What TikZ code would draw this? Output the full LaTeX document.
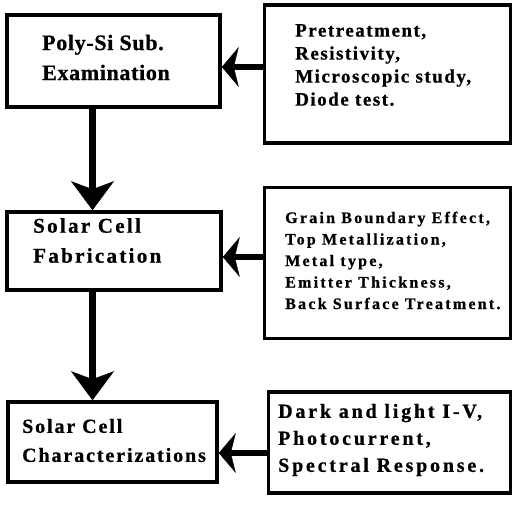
\documentclass[tikz,border=0pt]{standalone}
\usepackage{fontspec}
\setmainfont{Liberation Serif}[FakeBold=0.8]
\usetikzlibrary{arrows.meta}
\newcommand{\ftext}[3]{\bfseries\fontsize{#1}{#2}\selectfont\addfontfeature{LetterSpace=#3}}
\begin{document}
\begin{tikzpicture}[x=1pt,y=-1pt,
  box/.style={draw, line width=3.6pt, rectangle, inner sep=0pt},
  txt/.style={align=left, inner sep=0pt, anchor=west},
  harrow/.style={line width=5.5pt, -{Stealth[length=17pt,width=40pt,inset=5pt,line width=0.4pt]}},
  varrow/.style={line width=6.5pt, -{Stealth[length=29pt,width=43pt,inset=8pt,line width=0.4pt]}}]
\useasboundingbox (0,0) rectangle (513,505);
% main boxes
\node[box, minimum width=213pt, minimum height=92pt] (b1) at (113.5,61) {};
\node[box, minimum width=214pt, minimum height=78pt] (b2) at (114,251) {};
\node[box, minimum width=209pt, minimum height=80pt] (b3) at (112.5,442) {};
% right boxes
\node[box, minimum width=246pt, minimum height=138pt] (r1) at (387.5,74) {};
\node[box, minimum width=246pt, minimum height=151pt] (r2) at (387.5,263) {};
\node[box, minimum width=242pt, minimum height=101pt] (r3) at (389.5,442.5) {};
% texts
\node[txt, font=\ftext{22}{30}{3}] (t1) at (42,57.5) {Poly-Si Sub.\\Examination};
\node[txt, font=\ftext{21}{30}{11}] (t2) at (33,240.5) {Solar Cell\\Fabrication};
\node[txt, font=\ftext{20}{29}{9.5}] (t3) at (22,440.5) {Solar Cell\\Characterizations};
\node[txt, font=\ftext{19}{23}{8}] (s1) at (295,65) {Pretreatment,\\Resistivity,\\Microscopic study,\\Diode test.};
\node[txt, font=\ftext{16}{21.5}{14}] (s2) at (285,260.5) {Grain Boundary Effect,\\Top Metallization,\\Metal type,\\Emitter Thickness,\\Back Surface Treatment.};
\node[txt, font=\ftext{20}{27}{14}] (s3) at (278,440) {Dark and light I-V,\\Photocurrent,\\Spectral Response.};
% connector helper coordinates
\coordinate (vx) at (92.5,0);
\coordinate (h1) at (0,67);
\coordinate (h2) at (0,257);
\coordinate (h3) at (0,453);
% connectors
\draw[varrow] (b1.south -| vx) -- (b2.north -| vx);
\draw[varrow] (b2.south -| vx) -- (b3.north -| vx);
\draw[harrow] (r1.west |- h1) -- (b1.east |- h1);
\draw[harrow] (r2.west |- h2) -- (b2.east |- h2);
\draw[harrow] (r3.west |- h3) -- (b3.east |- h3);
\end{tikzpicture}
\end{document}
